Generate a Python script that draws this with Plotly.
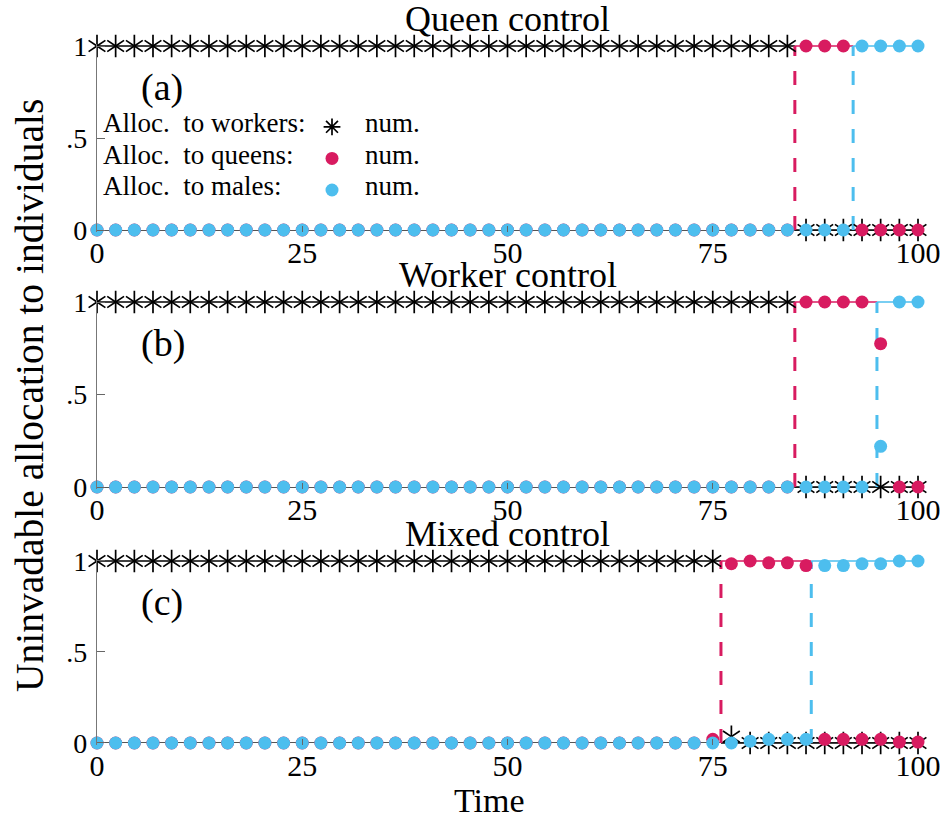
import plotly.graph_objects as go

# ---------------- data ----------------
time = [0.0, 2.27, 4.55, 6.82, 9.09, 11.36, 13.64, 15.91, 18.18, 20.45, 22.73,
        25.0, 27.27, 29.55, 31.82, 34.09, 36.36, 38.64, 40.91, 43.18, 45.45,
        47.73, 50.0, 52.27, 54.55, 56.82, 59.09, 61.36, 63.64, 65.91, 68.18,
        70.45, 72.73, 75.0, 77.27, 79.55, 81.82, 84.09, 86.36, 88.64, 90.91,
        93.18, 95.45, 97.73, 100.0]

# (a) Queen control
workers_a = [1, 1, 1, 1, 1, 1, 1, 1, 1, 1, 1, 1, 1, 1, 1, 1, 1, 1, 1, 1,
             1, 1, 1, 1, 1, 1, 1, 1, 1, 1, 1, 1, 1, 1, 1, 1, 1, 1, 0, 0,
             0, 0, 0, 0, 0]
queens_a = [0, 0, 0, 0, 0, 0, 0, 0, 0, 0, 0, 0, 0, 0, 0, 0, 0, 0, 0, 0,
            0, 0, 0, 0, 0, 0, 0, 0, 0, 0, 0, 0, 0, 0, 0, 0, 0, 0, 1, 1,
            1, 0, 0, 0, 0]
males_a = [0, 0, 0, 0, 0, 0, 0, 0, 0, 0, 0, 0, 0, 0, 0, 0, 0, 0, 0, 0,
           0, 0, 0, 0, 0, 0, 0, 0, 0, 0, 0, 0, 0, 0, 0, 0, 0, 0, 0, 0,
           0, 1, 1, 1, 1]

# (b) Worker control
workers_b = [1, 1, 1, 1, 1, 1, 1, 1, 1, 1, 1, 1, 1, 1, 1, 1, 1, 1, 1, 1,
             1, 1, 1, 1, 1, 1, 1, 1, 1, 1, 1, 1, 1, 1, 1, 1, 1, 1, 0, 0,
             0, 0, 0, 0, 0]
queens_b = [0, 0, 0, 0, 0, 0, 0, 0, 0, 0, 0, 0, 0, 0, 0, 0, 0, 0, 0, 0,
            0, 0, 0, 0, 0, 0, 0, 0, 0, 0, 0, 0, 0, 0, 0, 0, 0, 0, 1, 1,
            1, 1, 0.775, 0, 0]
males_b = [0, 0, 0, 0, 0, 0, 0, 0, 0, 0, 0, 0, 0, 0, 0, 0, 0, 0, 0, 0,
           0, 0, 0, 0, 0, 0, 0, 0, 0, 0, 0, 0, 0, 0, 0, 0, 0, 0, 0, 0,
           0, 0, 0.22, 1, 1]

# (c) Mixed control
workers_c = [1, 1, 1, 1, 1, 1, 1, 1, 1, 1, 1, 1, 1, 1, 1, 1, 1, 1, 1, 1,
             1, 1, 1, 1, 1, 1, 1, 1, 1, 1, 1, 1, 1, 1, 0.035, 0, 0, 0, 0, 0,
             0, 0, 0, 0, 0]
queens_c = [0, 0, 0, 0, 0, 0, 0, 0, 0, 0, 0, 0, 0, 0, 0, 0, 0, 0, 0, 0,
            0, 0, 0, 0, 0, 0, 0, 0, 0, 0, 0, 0, 0, 0.02, 0.985, 1.0, 0.99, 0.99,
            0.975, 0.02, 0.02, 0.02, 0.02, 0.005, 0.005]
males_c = [0, 0, 0, 0, 0, 0, 0, 0, 0, 0, 0, 0, 0, 0, 0, 0, 0, 0, 0, 0,
           0, 0, 0, 0, 0, 0, 0, 0, 0, 0, 0, 0, 0, 0, 0, 0.01, 0.02, 0.02, 0.02,
           0.975, 0.975, 0.985, 0.985, 1.0, 1.0]

# switch times (dashed lines)
t_queens = [85.0, 85.0, 76.0]
t_males = [92.1, 95.0, 87.0]

panel_titles = ["Queen control", "Worker control", "Mixed control"]
panel_letters = ["(a)", "(b)", "(c)"]
y_ticks = [0, 0.5, 1]
y_ticktext = ["0", ".5", "1"]
x_ticks = [0, 25, 50, 75, 100]
legend_labels = ["Alloc.\u00a0 to workers:", "Alloc.\u00a0 to queens:", "Alloc.\u00a0 to males:"]
legend_num = "num."

# ---------------- style ----------------
RED = "#D81B60"
BLUE = "#4DBEEE"
FONT = "Liberation Serif"
W, H = 943, 821
ML, MR, MT, MB = 97, 25, 30, 60
PAD = 0.012
# pixel positions of (value 1, value 0) for each panel
panel_px = [(46, 230), (302, 487), (561, 743)]
legend_rows = [123, 155, 186]


def py(p):
    return (H - MB - p) / (H - MT - MB)


def px(p):
    return (p - ML) / (W - ML - MR)


fig = go.Figure()

panels = [
    (workers_a, queens_a, males_a),
    (workers_b, queens_b, males_b),
    (workers_c, queens_c, males_c),
]

for i, (wk, qn, ml) in enumerate(panels):
    xa = "x" if i == 0 else f"x{i+1}"
    ya = "y" if i == 0 else f"y{i+1}"
    t1, t2 = t_queens[i], t_males[i]
    common = dict(xaxis=xa, yaxis=ya, showlegend=False, hoverinfo="skip")
    # analytic steps
    fig.add_trace(go.Scatter(x=[time[0], t1, None, t1, time[-1]], y=[1, 1, None, 0, 0],
                             mode="lines", line=dict(color="black", width=1.4), **common))
    fig.add_trace(go.Scatter(x=[t1, t2], y=[1, 1], mode="lines",
                             line=dict(color=RED, width=1.4), **common))
    fig.add_trace(go.Scatter(x=[t2, time[-1]], y=[1, 1], mode="lines",
                             line=dict(color=BLUE, width=1.4), **common))
    fig.add_trace(go.Scatter(x=[t1, t1], y=[0, 1], mode="lines",
                             line=dict(color=RED, width=3, dash="14px,15px"), **common))
    fig.add_trace(go.Scatter(x=[t2, t2], y=[0, 1], mode="lines",
                             line=dict(color=BLUE, width=3, dash="14px,15px"), **common))
    # numeric points
    for sym in ["y-up-open", "y-down-open"]:
        fig.add_trace(go.Scatter(x=time, y=wk, mode="markers", cliponaxis=False,
                                 marker=dict(symbol=sym, size=14, color="black",
                                             line=dict(color="black", width=1.7)),
                                 **common))
    fig.add_trace(go.Scatter(x=time, y=qn, mode="markers", cliponaxis=False,
                             marker=dict(symbol="circle", size=13, color=RED), **common))
    fig.add_trace(go.Scatter(x=time, y=ml, mode="markers", cliponaxis=False,
                             marker=dict(symbol="circle", size=13, color=BLUE), **common))

# legend entries (symbols only; text placed as annotations)
fig.add_trace(go.Scatter(x=[None], y=[None], mode="markers", name="",
                         marker=dict(symbol="asterisk-open", size=14, color="black",
                                     line=dict(color="black", width=1.7))))
fig.add_trace(go.Scatter(x=[None], y=[None], mode="markers", name="",
                         marker=dict(symbol="circle", size=13, color=RED)))
fig.add_trace(go.Scatter(x=[None], y=[None], mode="markers", name="",
                         marker=dict(symbol="circle", size=13, color=BLUE)))

layout = dict(
    width=W, height=H, autosize=False,
    margin=dict(l=ML, r=MR, t=MT, b=MB, autoexpand=False),
    paper_bgcolor="white", plot_bgcolor="white",
    font=dict(family=FONT, color="black"),
    showlegend=True,
    legend=dict(x=px(312), y=py(106), xanchor="left", yanchor="top",
                font=dict(family=FONT, size=22), bgcolor="rgba(0,0,0,0)",
                tracegroupgap=0),
)
annotations = []
for i in range(3):
    y1p, y0p = panel_px[i]
    ppu = y0p - y1p
    top = py(y1p - PAD * ppu)
    bot = py(y0p + PAD * ppu)
    xk = "xaxis" if i == 0 else f"xaxis{i+1}"
    yk = "yaxis" if i == 0 else f"yaxis{i+1}"
    ya = "y" if i == 0 else f"y{i+1}"
    xa = "x" if i == 0 else f"x{i+1}"
    layout[xk] = dict(domain=[0, 1], range=[0, 100], anchor=ya, automargin=False,
                      tickvals=x_ticks, ticktext=[str(v) for v in x_ticks],
                      ticks="inside", ticklen=6, tickcolor="#666", tickwidth=1,
                      showline=False, showgrid=False, zeroline=False,
                      tickfont=dict(family=FONT, size=30))
    layout[yk] = dict(domain=[bot, top], range=[-PAD, 1 + PAD], anchor=xa,
                      automargin=False,
                      tickvals=y_ticks, ticktext=y_ticktext,
                      ticks="inside", ticklen=8, tickcolor="#666", tickwidth=1,
                      ticklabelstandoff=3,
                      showline=True, linecolor="#777", linewidth=1.2,
                      showgrid=False, zeroline=True, zerolinecolor="#555",
                      zerolinewidth=1.2,
                      tickfont=dict(family=FONT, size=28))
    # panel title
    annotations.append(dict(text=panel_titles[i], xref="paper", yref="paper",
                            x=0.5, y=py(y1p - 27), xanchor="center", yanchor="middle",
                            showarrow=False, font=dict(family=FONT, size=36)))
    # panel letter
    annotations.append(dict(text=panel_letters[i], xref="paper", yref="paper",
                            x=px(139), y=py(y1p + 41), xanchor="left", yanchor="middle",
                            showarrow=False, font=dict(family=FONT, size=38)))

for lab, yp in zip(legend_labels, legend_rows):
    annotations.append(dict(text=lab, xref="paper", yref="paper",
                            x=px(101), y=py(yp), xanchor="left", yanchor="middle",
                            showarrow=False, font=dict(family=FONT, size=27)))
    annotations.append(dict(text=legend_num, xref="paper", yref="paper",
                            x=px(363), y=py(yp), xanchor="left", yanchor="middle",
                            showarrow=False, font=dict(family=FONT, size=27)))

annotations.append(dict(text="Time", xref="paper", yref="paper", x=px(489), y=py(800),
                        xanchor="center", yanchor="middle", showarrow=False,
                        font=dict(family=FONT, size=34)))
annotations.append(dict(text="Uninvadable allocation to individuals", xref="paper",
                        yref="paper", x=px(30), y=py(396), xanchor="center",
                        yanchor="middle", textangle=-90, showarrow=False,
                        font=dict(family=FONT, size=39.5)))
layout["annotations"] = annotations
fig.update_layout(**layout)

fig.write_html("out.html", config={"displayModeBar": False},
               post_script="document.body.style.margin='0px';")
